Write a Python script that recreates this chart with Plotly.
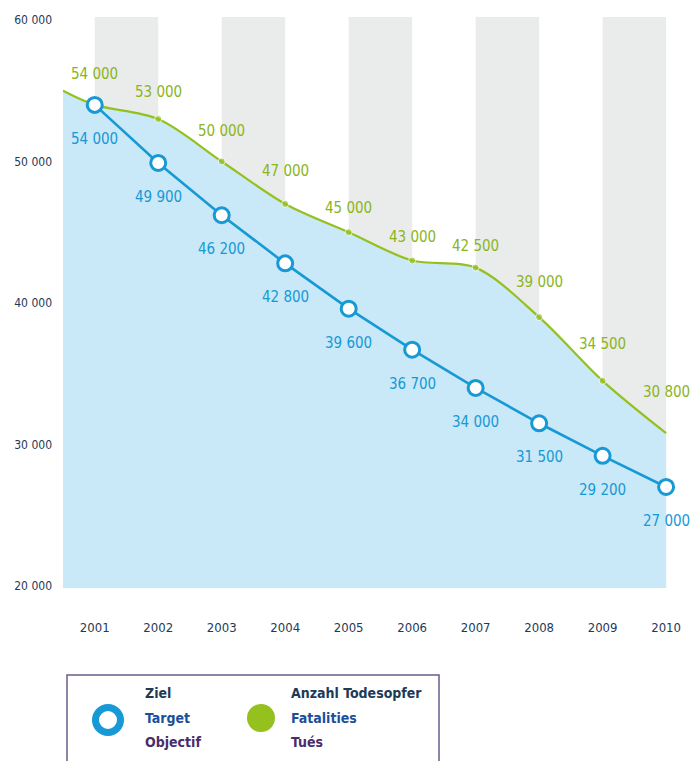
import plotly.graph_objects as go

# ---------------- data ----------------
years = [2001, 2002, 2003, 2004, 2005, 2006, 2007, 2008, 2009, 2010]
target = [54000, 49900, 46200, 42800, 39600, 36700, 34000, 31500, 29200, 27000]
fatalities = [54000, 53000, 50000, 47000, 45000, 43000, 42500, 39000, 34500, 30800]
lead_in_year = 2000.5
lead_in_fatalities = 55000
y_ticks = [20000, 30000, 40000, 50000, 60000]
y_tick_labels = ["20 000", "30 000", "40 000", "50 000", "60 000"]
stripe_pairs = [(2001, 2002), (2003, 2004), (2005, 2006), (2007, 2008), (2009, 2010)]

# ---------------- styles ----------------
W, H = 700, 761
OFF = 8  # page body offset
PL, PR, PT, PB = 63, 668, 17, 588  # desired plot box in page pixels
L, R, T, B = PL - OFF, W + OFF - PR, PT - OFF, H + OFF - PB
FONT = "DejaVu Sans Condensed, Roboto, sans-serif"
GREEN = "#95c11f"
GREEN_TXT = "#8ab51c"
BLUE = "#1799d5"
FILL = "#c9e8f8"
STRIPE = "#eaeceb"
NAVY = "#1d3a57"
green_shift = [31, 27, 30, 33, 24, 24, 22, 35, 37, 41]
blue_shift = 34


def fmt(v):
    return f"{v:,}".replace(",", " ")


def px_x(px):
    return (px - PL) / (PR - PL)


def px_y(py):
    return (PB - py) / (PB - PT)


fig = go.Figure()

# fatalities area + line
fig.add_trace(go.Scatter(
    x=[lead_in_year] + years, y=[lead_in_fatalities] + fatalities,
    mode="lines", line=dict(color=GREEN, width=2.2, shape="spline", smoothing=0.9),
    fill="tozeroy", fillcolor=FILL, hoverinfo="skip", showlegend=False))
fig.add_trace(go.Scatter(
    x=years, y=fatalities, mode="markers", cliponaxis=False,
    marker=dict(color=GREEN, size=[7] * (len(years) - 1) + [0]),
    showlegend=False))

# target line
fig.add_trace(go.Scatter(
    x=years, y=target, mode="lines+markers", cliponaxis=False,
    line=dict(color=BLUE, width=2.6),
    marker=dict(size=15, color="white", line=dict(color=BLUE, width=3)),
    showlegend=False))

shapes = []
for a, b in stripe_pairs:
    shapes.append(dict(type="rect", xref="x", yref="paper", x0=a, x1=b, y0=0, y1=1,
                       fillcolor=STRIPE, line=dict(width=0), layer="below"))

annotations = []
for i, (yr, v) in enumerate(zip(years, fatalities)):
    annotations.append(dict(x=yr, y=v, xref="x", yref="y", text=fmt(v), showarrow=False,
                            yshift=green_shift[i], font=dict(family=FONT, size=15, color=GREEN_TXT)))
for yr, v in zip(years, target):
    annotations.append(dict(x=yr, y=v, xref="x", yref="y", text=fmt(v), showarrow=False,
                            yshift=-blue_shift, font=dict(family=FONT, size=15, color=BLUE)))

# legend box
shapes.append(dict(type="rect", xref="paper", yref="paper",
                   x0=px_x(67), x1=px_x(439), y0=px_y(675), y1=px_y(775),
                   line=dict(color="#6b5c8c", width=1.5), fillcolor="rgba(0,0,0,0)"))
r = 12.5
shapes.append(dict(type="circle", xref="paper", yref="paper",
                   x0=px_x(108 - r), x1=px_x(108 + r), y0=px_y(720 + r), y1=px_y(720 - r),
                   line=dict(color=BLUE, width=7), fillcolor="white"))
r2 = 14
shapes.append(dict(type="circle", xref="paper", yref="paper",
                   x0=px_x(261 - r2), x1=px_x(261 + r2), y0=px_y(718 + r2), y1=px_y(718 - r2),
                   line=dict(color=GREEN, width=0), fillcolor=GREEN))

legend_rows = [
    (143, ["Ziel", "Target", "Objectif"]),
    (289, ["Anzahl Todesopfer", "Fatalities", "Tués"]),
]
row_colors = [NAVY, "#1b4f9b", "#4a2d6b"]
row_y = [693, 718, 742]
for lx, texts in legend_rows:
    for t, c, ly in zip(texts, row_colors, row_y):
        annotations.append(dict(x=px_x(lx), y=px_y(ly), xref="paper", yref="paper",
                                xanchor="left", yanchor="middle", text=f"<b>{t}</b>",
                                showarrow=False, font=dict(family=FONT, size=14, color=c)))

fig.update_layout(
    width=W, height=H, margin=dict(l=L, r=R, t=T, b=B),
    plot_bgcolor="white", paper_bgcolor="white",
    shapes=shapes, annotations=annotations,
    xaxis=dict(range=[lead_in_year, 2010.03], tickvals=years, ticktext=[str(y) for y in years],
               showgrid=False, zeroline=False, showline=False, ticks="",
               ticklabelstandoff=30, automargin=False,
               tickfont=dict(family=FONT, size=13, color=NAVY)),
    yaxis=dict(range=[19860, 60210], tickvals=y_ticks, ticktext=y_tick_labels,
               showgrid=False, zeroline=False, showline=False, ticks="",
               ticklabelstandoff=10, automargin=False,
               tickfont=dict(family=FONT, size=12, color=NAVY)),
)

fig.write_html("out.html")
